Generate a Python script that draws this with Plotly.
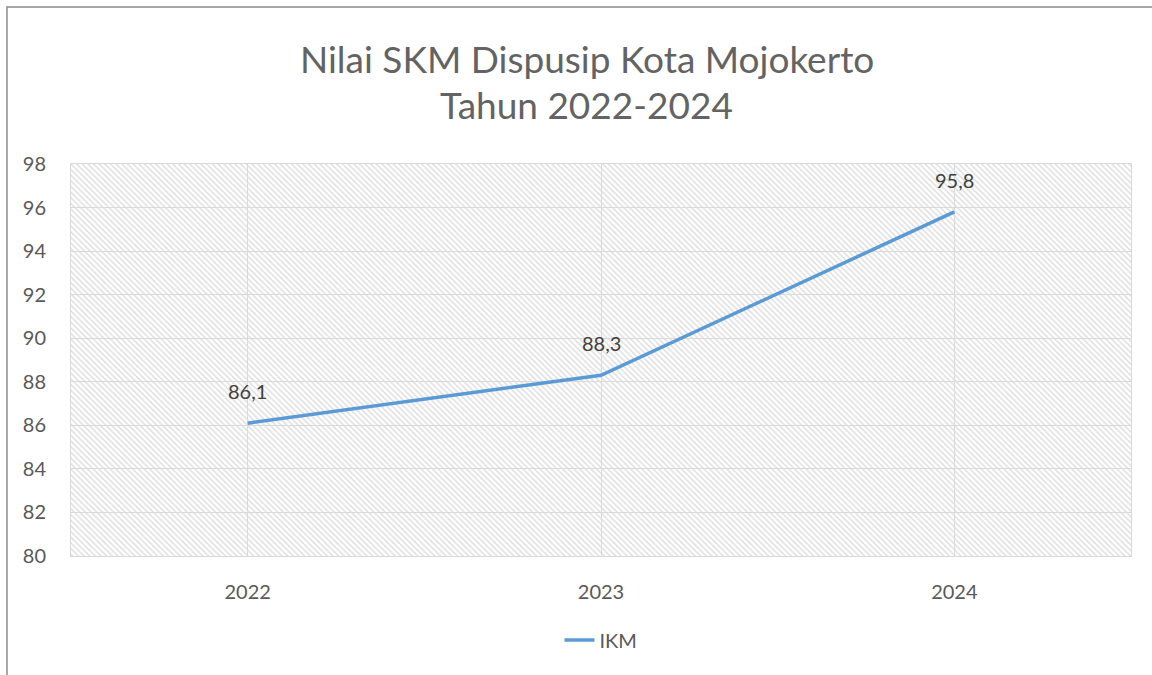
import plotly.graph_objects as go

years = ["2022", "2023", "2024"]
ikm = [86.1, 88.3, 95.8]
labels = ["86,1", "88,3", "95,8"]
series_name = "IKM"
title_lines = ["Nilai SKM Dispusip Kota Mojokerto", "Tahun 2022-2024"]
y_min, y_max, y_step = 80, 98, 2

FONT = "Lato"
fig = go.Figure()

# hatched plot-area background
fig.add_trace(go.Bar(
    x=years, y=[y_max - y_min] * len(years), base=[y_min] * len(years),
    width=1, showlegend=False, hoverinfo="skip",
    marker=dict(color="rgba(0,0,0,0)", line=dict(width=0),
                pattern=dict(shape="\\", fgcolor="#dcdcdc", bgcolor="rgba(0,0,0,0)",
                             size=4, solidity=0.35, fillmode="replace")),
))

fig.add_trace(go.Scatter(
    x=years, y=ikm, mode="lines", name=series_name,
    line=dict(color="#5b9bd5", width=3.5),
))

for i, (y, t) in enumerate(zip(ikm, labels)):
    fig.add_annotation(x=i, y=y, xref="x", yref="y", text=t, showarrow=False,
                       yshift=32,
                       font=dict(family=FONT, size=20, color="#404040"))

# title as two centred lines
for yy, line in zip([1.270, 1.151], title_lines):
    fig.add_annotation(x=0.4867, y=yy, xref="paper", yref="paper", text=line,
                       showarrow=False, xanchor="center", yanchor="middle",
                       font=dict(family=FONT, size=37, color="#636363"))

# outer chart border
fig.add_shape(type="rect", xref="paper", yref="paper",
              x0=-0.0604, x1=1.3, y0=-1.0, y1=1.4005,
              line=dict(color="#8c8c8c", width=1.5), fillcolor="rgba(0,0,0,0)",
              layer="below")

fig.update_layout(
    width=1152, height=675,
    margin=dict(l=71, r=21, t=164, b=119, autoexpand=False),
    paper_bgcolor="white", plot_bgcolor="white",
    barmode="overlay", bargap=0,
    font=dict(family=FONT, size=20, color="#595959"),
    xaxis=dict(type="category", showgrid=True, gridcolor="#d9d9d9", gridwidth=1,
               showline=True, linecolor="#d9d9d9", mirror=True,
               ticks="outside", ticklen=18, tickcolor="rgba(0,0,0,0)",
               tickfont=dict(size=20, color="#595959"),
               range=[-0.5, 2.5], fixedrange=True),
    yaxis=dict(range=[y_min, y_max], dtick=y_step, tick0=y_min,
               showgrid=True, gridcolor="#d9d9d9", gridwidth=1,
               showline=True, linecolor="#d9d9d9", mirror=True, zeroline=False,
               ticks="outside", ticklen=20, tickcolor="rgba(0,0,0,0)",
               tickfont=dict(size=20, color="#595959")),
    legend=dict(orientation="h", x=0.5, xanchor="center", y=-0.214, yanchor="middle",
                font=dict(family=FONT, size=20, color="#595959")),
    showlegend=True,
)

fig.write_html("out.html", config={"displayModeBar": False},
               post_script="document.body.style.margin='0';")
